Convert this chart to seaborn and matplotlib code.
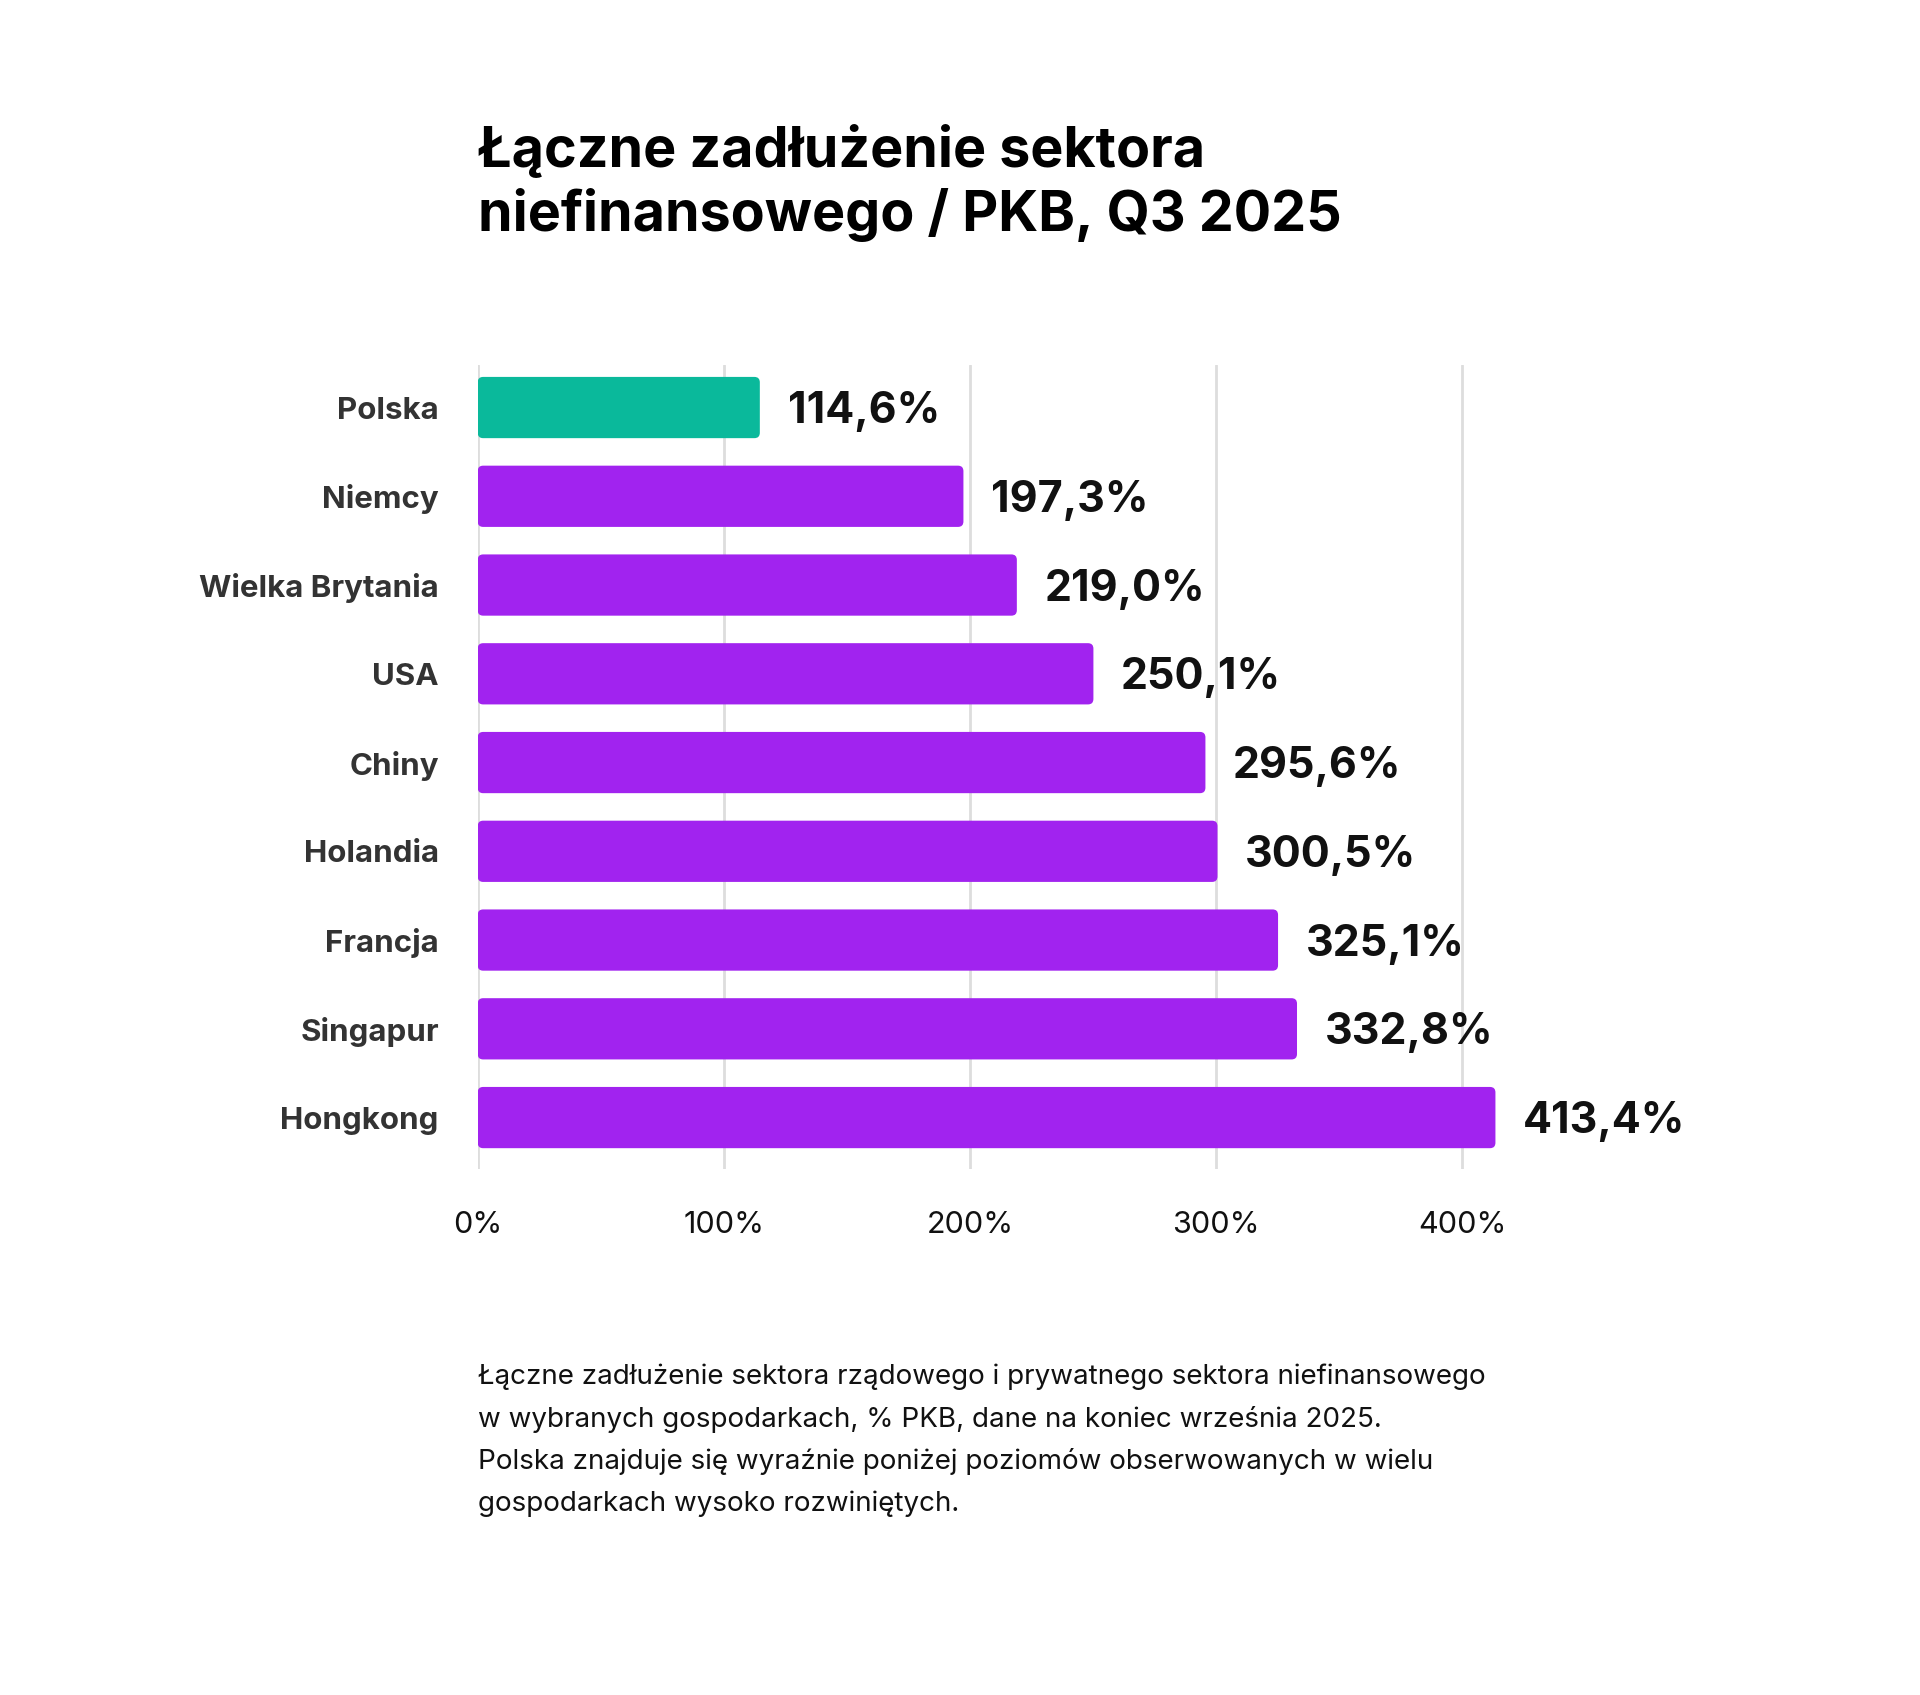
import matplotlib
matplotlib.use("Agg")
import matplotlib.pyplot as plt
import seaborn as sns
import pandas as pd
from matplotlib.patches import FancyBboxPatch

countries = ['Polska', 'Niemcy', 'Wielka Brytania', 'USA', 'Chiny', 'Holandia', 'Francja', 'Singapur', 'Hongkong']
debt = [114.6, 197.3, 219.0, 250.1, 295.6, 300.5, 325.1, 332.8, 413.4]
labels = ['114,6%', '197,3%', '219,0%', '250,1%', '295,6%', '300,5%', '325,1%', '332,8%', '413,4%']
ticks = [0, 100, 200, 300, 400]

teal = '#0AB99B'
purple = '#A123EF'

sns.set_theme(style='white')
plt.rcParams['font.family'] = ['Inter', 'DejaVu Sans']

df = pd.DataFrame({'country': countries, 'debt': debt})
df['kolor'] = ['Polska' if c == 'Polska' else 'inne' for c in countries]

fig = plt.figure(figsize=(19.2, 16.95), dpi=100)
ax = fig.add_axes([0.2488, 0.3103, 0.577, 0.4744])

sns.barplot(data=df, x='debt', y='country', hue='kolor', orient='h',
            palette={'Polska': teal, 'inne': purple}, width=0.69,
            legend=False, ax=ax, saturation=1)

# zamiana prostokatow na zaokraglone
ax.set_xlim(0, 450)
ax.set_ylim(8.58, -0.48)
for p in list(ax.patches):
    x, y = p.get_x(), p.get_y()
    w, h = p.get_width(), p.get_height()
    fc = p.get_facecolor()
    p.remove()
    rb = FancyBboxPatch((x, y), w, h, boxstyle='round,pad=0,rounding_size=2.2',
                        mutation_aspect=0.028, facecolor=fc, edgecolor='none', zorder=3)
    ax.add_patch(rb)

for i, (v, lab) in enumerate(zip(debt, labels)):
    ax.annotate(lab, xy=(v, i), xytext=(20, -3), textcoords='offset points',
                va='center', ha='left', fontsize=31, fontweight='bold',
                color='#111111', annotation_clip=False)

ax.set_xticks(ticks)
ax.set_xticklabels([f'{t}%' for t in ticks], fontsize=22, color='#111111')
ax.tick_params(axis='x', length=0, pad=30)
ax.tick_params(axis='y', length=0, pad=28)
for t in ax.get_yticklabels():
    t.set_fontsize(22.5)
    t.set_fontweight('bold')
    t.set_color('#333333')

ax.xaxis.grid(True, color='#DDDDDD', linewidth=2)
ax.yaxis.grid(False)
ax.set_axisbelow(True)
sns.despine(ax=ax, left=True, bottom=True, top=True, right=True)
ax.set_xlabel('')
ax.set_ylabel('')

fig.text(0.2488, 1 - 124 / 1695, 'Łączne zadłużenie sektora\nniefinansowego / PKB, Q3 2025',
         fontsize=40, fontweight='bold', color='#000000', va='top', ha='left',
         linespacing=1.24)

fig.text(0.2488, 1 - 1364 / 1695,
         'Łączne zadłużenie sektora rządowego i prywatnego sektora niefinansowego\n'
         'w wybranych gospodarkach, % PKB, dane na koniec września 2025.\n'
         'Polska znajduje się wyraźnie poniżej poziomów obserwowanych w wielu\n'
         'gospodarkach wysoko rozwiniętych.',
         fontsize=20, color='#111111', va='top', ha='left', linespacing=1.73)

plt.savefig('out.png', dpi=100, facecolor='white')
plt.close()
